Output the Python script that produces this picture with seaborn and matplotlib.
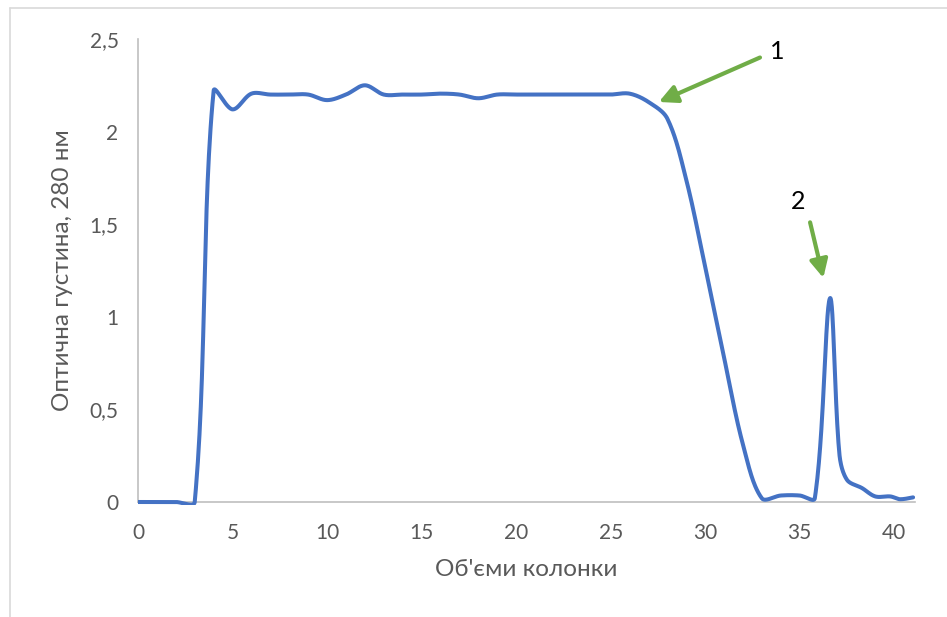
import numpy as np
import pandas as pd
import matplotlib
matplotlib.use("Agg")
import matplotlib.pyplot as plt
import seaborn as sns
from matplotlib.lines import Line2D
from matplotlib.ticker import FuncFormatter
from matplotlib.transforms import Bbox, TransformedBbox

# Elution profile: column volumes vs optical density at 280 nm
volumes = [0, 1, 2, 3, 4, 5, 6, 7, 8, 9, 10, 11, 12, 13, 14, 15, 16, 17, 18,
           19, 20, 21, 22, 23, 24, 25, 26, 27, 28, 29, 30, 31, 32, 33, 34, 35,
           35.8, 36.6, 37.1, 37.5, 38.3, 39, 39.8, 40.3, 41]
density = [0, 0, 0, 0, 2.22, 2.12, 2.205, 2.2, 2.2, 2.2, 2.17, 2.2, 2.25, 2.2,
           2.2, 2.2, 2.205, 2.2, 2.18, 2.2, 2.2, 2.2, 2.2, 2.2, 2.2, 2.2, 2.205,
           2.16, 2.07, 1.74, 1.27, 0.78, 0.31, 0.02, 0.035, 0.035,
           0.02, 1.1, 0.26, 0.12, 0.075, 0.03, 0.03, 0.015, 0.025]

x_ticks = [0, 5, 10, 15, 20, 25, 30, 35, 40]
y_ticks = [0, 0.5, 1, 1.5, 2, 2.5]

peak_labels = ["1", "2"]
label_pos = [(33.8, 2.43), (34.9, 1.62)]
arrow_tail = [(32.9, 2.40), (35.55, 1.51)]
arrow_tip = [(27.55, 2.16), (36.25, 1.21)]

X_RANGE = (0, 41.1)
Y_RANGE = (0, 2.5)


def smooth_path(xs, ys, sx_scale, sy_scale, steps=30):
    """Smoothed line through the points: cubic Bezier segments whose control
    arms follow the neighbouring chords (measured in screen proportions)."""
    p = np.column_stack([xs, ys]).astype(float)
    q = p * np.array([sx_scale, sy_scale])
    n = len(p)
    seg_len = np.linalg.norm(np.diff(q, axis=0), axis=1)
    out = []
    for i in range(n - 1):
        i0, i3 = max(i - 1, 0), min(i + 2, n - 1)
        p0, p1, p2, p3 = p[i0], p[i], p[i + 1], p[i3]
        l_prev = seg_len[i - 1] if i > 0 else seg_len[i]
        l_cur = seg_len[i]
        l_next = seg_len[i + 1] if i + 1 < n - 1 else seg_len[i]
        c1 = p1 + (p2 - p0) * l_cur / (3.0 * (l_prev + l_cur))
        c2 = p2 - (p3 - p1) * l_cur / (3.0 * (l_cur + l_next))
        t = np.linspace(0, 1, steps, endpoint=(i == n - 2))[:, None]
        seg = ((1 - t) ** 3) * p1 + 3 * ((1 - t) ** 2) * t * c1 \
            + 3 * (1 - t) * t ** 2 * c2 + t ** 3 * p2
        out.append(seg)
    out = np.vstack(out)
    return out[:, 0], out[:, 1]


# axes box in pixels: 777 wide, 463 tall
sx, sy = smooth_path(volumes, density,
                     777 / (X_RANGE[1] - X_RANGE[0]), 463 / (Y_RANGE[1] - Y_RANGE[0]))
curve = pd.DataFrame({"volume": sx, "od": sy})

sns.set_theme(style="white")
plt.rcParams["font.family"] = ["Lato", "DejaVu Sans"]

fig = plt.figure(figsize=(9.47, 6.17), dpi=100)
ax = fig.add_axes([138 / 947, 1 - 502 / 617, 777 / 947, 463 / 617])

sns.lineplot(data=curve, x="volume", y="od", sort=False, ax=ax,
             color="#4472c4", linewidth=2.9, zorder=5)

ax.set_xlim(*X_RANGE)
ax.set_ylim(*Y_RANGE)
ax.set_xticks(x_ticks)
ax.set_yticks(y_ticks)
ax.yaxis.set_major_formatter(FuncFormatter(lambda v, _: f"{v:g}".replace(".", ",")))

# let the stroke sitting on the baseline show in full
line = ax.lines[0]
line.set_clip_box(TransformedBbox(Bbox([[0, -0.006], [1, 1.0]]), ax.transAxes))

for side in ["top", "right"]:
    ax.spines[side].set_visible(False)
for side in ["left", "bottom"]:
    ax.spines[side].set_color("#bfbfbf")
    ax.spines[side].set_linewidth(1.2)

ax.tick_params(axis="both", which="major", direction="out", length=6, width=1.2,
               color="#bfbfbf", labelcolor="#595959", labelsize=15, pad=8)
ax.tick_params(axis="x", pad=9)

ax.set_xlabel("Об'єми колонки", fontsize=17.5, color="#595959", labelpad=12)
ax.set_ylabel("Оптична густина, 280 нм", fontsize=17.5, color="#595959", labelpad=12)

for lab, (lx, ly), tail, tip in zip(peak_labels, label_pos, arrow_tail, arrow_tip):
    ax.annotate("", xy=tip, xytext=tail,
                arrowprops=dict(arrowstyle="-|>,head_length=0.9,head_width=0.45",
                                color="#70ad47", lw=3, shrinkA=0, shrinkB=0),
                annotation_clip=False, zorder=6)
    ax.text(lx, ly, lab, fontsize=18, color="black", ha="center", va="center",
            zorder=6)

# light frame at the top and left edges
fig.add_artist(Line2D([10 / 947, 1], [1 - 8 / 617, 1 - 8 / 617],
                      transform=fig.transFigure, color="#d9d9d9", lw=1.2))
fig.add_artist(Line2D([10 / 947, 10 / 947], [0, 1 - 8 / 617],
                      transform=fig.transFigure, color="#d9d9d9", lw=1.2))

fig.savefig("out.png", dpi=100, facecolor="white")
